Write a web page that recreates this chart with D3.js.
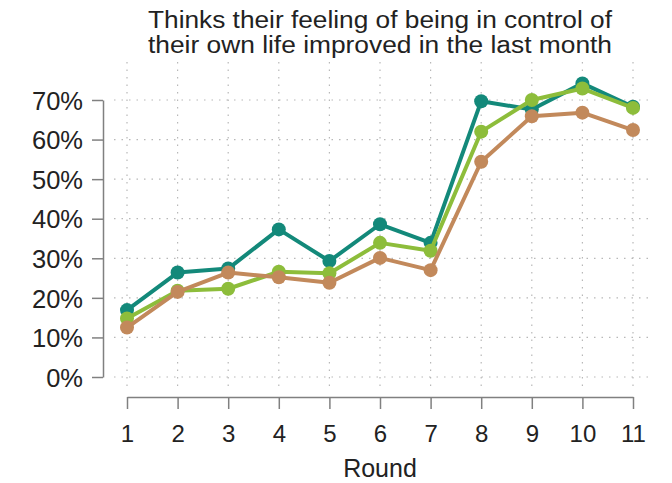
<!DOCTYPE html>
<html>
<head>
<meta charset="utf-8">
<script src="https://cdn.jsdelivr.net/npm/d3@7"></script>
<style>
  html, body { margin: 0; padding: 0; background: #fff; }
  svg { display: block; font-family: "Liberation Sans", Arial, sans-serif; }
</style>
</head>
<body>
<svg id="chart" width="672" height="483"></svg>
<script>
// Rounds on the x axis
const rounds = [1, 2, 3, 4, 5, 6, 7, 8, 9, 10, 11];
// Share (%) who think their sense of control over their life improved
const seriesTeal  = [16.9, 26.4, 27.4, 37.3, 29.3, 38.6, 33.9, 69.7, 67.6, 74.2, 68.3];
const seriesGreen = [14.8, 21.8, 22.3, 26.6, 26.2, 33.9, 31.9, 62.0, 70.0, 72.9, 68.0];
const seriesBrown = [12.5, 21.5, 26.4, 25.2, 23.8, 30.1, 27.0, 54.4, 65.9, 66.8, 62.4];
const yTicks = [0, 10, 20, 30, 40, 50, 60, 70];
const titleLines = ["Thinks their feeling of being in control of", "their own life improved in the last month"];
const xTitle = "Round";

const series = [
  { name: "teal", values: seriesTeal, color: "#13897a" },
  { name: "green", values: seriesGreen, color: "#8dbd3b" },
  { name: "brown", values: seriesBrown, color: "#c2895b" }
];

const svg = d3.select("#chart");
const textColor = "#222";

const x = d3.scaleLinear().domain([1, 11]).range([127, 633]);
const y = d3.scaleLinear().domain([0, 70]).range([377, 100]);

// Dotted grid
const grid = svg.append("g").attr("stroke", "#b8b8b8").attr("stroke-width", 1.2)
  .attr("stroke-dasharray", "1.5,6");
grid.selectAll("line.v").data(rounds).join("line")
  .attr("x1", d => x(d)).attr("x2", d => x(d))
  .attr("y1", 62).attr("y2", 388);
grid.selectAll("line.h").data(yTicks).join("line")
  .attr("x1", 114).attr("x2", 648)
  .attr("y1", d => y(d)).attr("y2", d => y(d));

// Y axis
const yAxis = svg.append("g").attr("transform", "translate(103,0)")
  .call(d3.axisLeft(y).tickValues(yTicks).tickFormat(d => d + "%").tickSizeInner(11).tickSizeOuter(0));
yAxis.select(".domain").attr("stroke", "#808080").attr("stroke-width", 1.5);
yAxis.selectAll(".tick line").attr("stroke", "#808080").attr("stroke-width", 1.5);
yAxis.selectAll(".tick text").attr("font-size", 25.5).attr("fill", textColor)
  .attr("font-family", "Liberation Sans, Arial, sans-serif").attr("x", -20).attr("dy", "0.36em");

// X axis
const xAxis = svg.append("g").attr("transform", "translate(0,397)")
  .call(d3.axisBottom(x).tickValues(rounds).tickFormat(d3.format("d")).tickSizeInner(12).tickSizeOuter(0));
xAxis.select(".domain").attr("stroke", "#808080").attr("stroke-width", 1.5);
xAxis.selectAll(".tick line").attr("stroke", "#808080").attr("stroke-width", 1.5);
xAxis.selectAll(".tick text").attr("font-size", 24).attr("fill", textColor)
  .attr("font-family", "Liberation Sans, Arial, sans-serif").attr("y", 45).attr("dy", 0);

// Axis title
svg.append("text").attr("x", x(6)).attr("y", 477).attr("text-anchor", "middle")
  .attr("font-size", 25).attr("fill", textColor).text(xTitle);

// Chart title
svg.append("g").selectAll("text").data(titleLines).join("text")
  .attr("x", 380).attr("y", (d, i) => 28 + i * 25)
  .attr("text-anchor", "middle").attr("font-size", 23).attr("fill", textColor)
  .attr("textLength", 464).attr("lengthAdjust", "spacingAndGlyphs")
  .text(d => d);

// Lines and markers
const line = d3.line().x((d, i) => x(rounds[i])).y(d => y(d));
const sg = svg.append("g").selectAll("g").data(series).join("g");
sg.append("path").attr("d", d => line(d.values)).attr("fill", "none")
  .attr("stroke", d => d.color).attr("stroke-width", 4).attr("stroke-linejoin", "round");
sg.selectAll("circle").data(d => d.values.map(v => ({ v, c: d.color }))).join("circle")
  .attr("cx", (d, i) => x(rounds[i])).attr("cy", d => y(d.v)).attr("r", 7)
  .attr("fill", d => d.c);
</script>
</body>
</html>
